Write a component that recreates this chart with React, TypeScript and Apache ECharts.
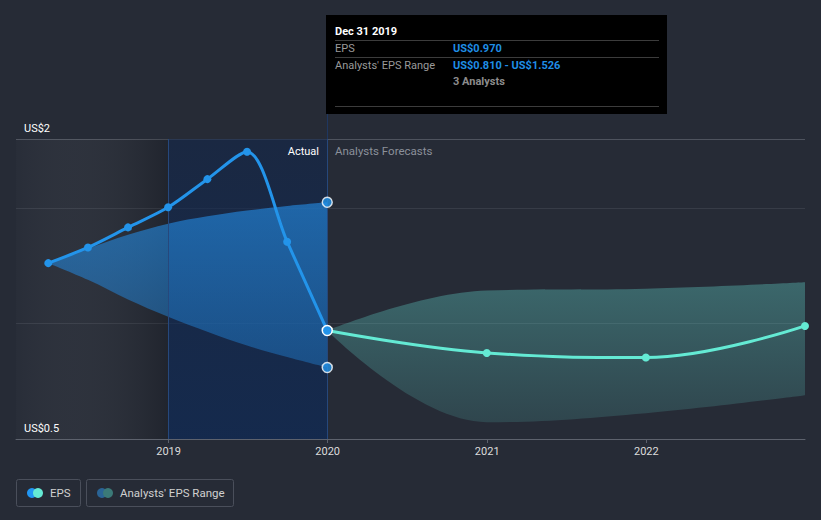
import React, { useEffect, useRef } from 'react';
import * as echarts from 'echarts';

// ---- data ----
const pastDates = ['2018-03-31', '2018-06-30', '2018-09-30', '2018-12-31', '2019-03-31', '2019-06-30', '2019-09-30', '2019-12-31'];
const epsActual = [1.262, 1.33, 1.417, 1.504, 1.626, 1.745, 1.355, 0.97];
const pastRangeLow = [1.262, 1.19, 1.105, 1.03, 0.965, 0.905, 0.855, 0.81];
const pastRangeHigh = [1.262, 1.325, 1.385, 1.433, 1.465, 1.49, 1.51, 1.526];

const fcDates = ['2019-12-31', '2020-12-31', '2021-12-31', '2022-12-31'];
const epsForecast = [0.97, 0.873, 0.853, 0.99];
const fcRangeLow = [0.97, 0.573, 0.612, 0.69];
const fcRangeHigh = [0.97, 1.144, 1.151, 1.179];

const xMin = '2018-01-16';
const xMax = '2022-12-31';
const yMin = 0.5;
const yMax = 1.8;
const yTickLabels: [number, string][] = [[0.5, 'US$0.5'], [1.8, 'US$2']];
const analystCount = 3;
const tooltipDate = 'Dec 31 2019';
const actualStart = '2018-12-31';

const BLUE = '#2394ea';
const TEAL = '#64ead4';
const FONT = 'Roboto, "Noto Sans", sans-serif';

export default function App() {
  const ref = useRef<HTMLDivElement>(null);
  useEffect(() => {
    const chart = echarts.init(ref.current!, null, { renderer: 'svg' });
    const last = pastDates.length - 1;
    const yearMs = 365 * 24 * 3600 * 1000;

    const option: any = {
      animation: false,
      backgroundColor: '#262b36',
      textStyle: { fontFamily: FONT },
      grid: { left: 16, right: 16, top: 139, bottom: 81 },
      xAxis: {
        type: 'time',
        min: xMin,
        max: xMax,
        minInterval: yearMs,
        maxInterval: yearMs * 1.01,
        axisLine: { lineStyle: { color: '#5d626d', width: 1 } },
        axisTick: { show: true, length: 4, lineStyle: { color: '#5d626d' } },
        axisLabel: {
          color: '#dcdcdc',
          fontSize: 11,
          margin: 7,
          showMinLabel: false,
          showMaxLabel: false,
          formatter: (v: number) => String(new Date(v).getFullYear()),
        },
        splitLine: { show: false },
      },
      yAxis: {
        type: 'value',
        min: yMin,
        max: yMax,
        interval: 0.5,
        axisLine: { show: false },
        axisTick: { show: false },
        axisLabel: {
          inside: true,
          margin: 8,
          verticalAlign: 'bottom',
          padding: [0, 0, 5, 0],
          color: '#ffffff',
          fontSize: 11,
          formatter: (v: number) => {
            const f = yTickLabels.find((t) => Math.abs(t[0] - v) < 1e-6);
            return f ? f[1] : '';
          },
        },
        splitLine: { show: true, lineStyle: { color: ['#373c47', '#373c47', '#373c47', '#4e535e'], width: 1 } },
      },
      series: [
        {
          type: 'line',
          name: 'pastLow',
          stack: 'past',
          z: 1,
          silent: true,
          smooth: 0.35,
          symbol: 'none',
          lineStyle: { opacity: 0 },
          data: pastDates.map((d, i) => [d, pastRangeLow[i]]),
          markArea: {
            silent: true,
            data: [
              [
                {
                  xAxis: xMin,
                  itemStyle: {
                    color: {
                      type: 'linear', x: 0, y: 0, x2: 1, y2: 0,
                      colorStops: [
                        { offset: 0, color: 'rgba(255,255,255,0.012)' },
                        { offset: 1, color: 'rgba(0,0,0,0.15)' },
                      ],
                    },
                  },
                },
                { xAxis: actualStart },
              ],
              [
                {
                  xAxis: actualStart,
                  itemStyle: {
                    color: {
                      type: 'linear', x: 0, y: 0, x2: 0, y2: 1,
                      colorStops: [
                        { offset: 0, color: 'rgba(18,38,74,0.6)' },
                        { offset: 1, color: 'rgba(10,41,91,0.62)' },
                      ],
                    },
                  },
                },
                { xAxis: pastDates[last] },
              ],
            ],
          },
          markLine: {
            silent: true,
            symbol: 'none',
            label: { show: false },
            lineStyle: { color: '#26487c', type: 'solid', width: 1 },
            data: [{ xAxis: actualStart }, { xAxis: pastDates[last] }],
          },
        },
        {
          type: 'line',
          name: 'pastRange',
          stack: 'past',
          z: 2,
          silent: true,
          smooth: 0.35,
          symbol: 'none',
          lineStyle: { opacity: 0 },
          areaStyle: {
            color: {
              type: 'linear', x: 0, y: 0, x2: 0, y2: 1,
              colorStops: [
                { offset: 0, color: 'rgba(35,140,230,0.62)' },
                { offset: 1, color: 'rgba(35,140,230,0.38)' },
              ],
            },
            opacity: 1,
          },
          data: pastDates.map((d, i) => [d, pastRangeHigh[i] - pastRangeLow[i]]),
        },
        {
          type: 'line',
          name: 'fcLow',
          stack: 'fc',
          z: 1,
          silent: true,
          smooth: 0.4,
          symbol: 'none',
          lineStyle: { opacity: 0 },
          data: fcDates.map((d, i) => [d, fcRangeLow[i]]),
        },
        {
          type: 'line',
          name: 'fcRange',
          stack: 'fc',
          z: 2,
          silent: true,
          smooth: 0.4,
          symbol: 'none',
          lineStyle: { opacity: 0 },
          areaStyle: {
            color: {
              type: 'linear', x: 0, y: 0, x2: 0, y2: 1,
              colorStops: [
                { offset: 0, color: 'rgba(100,220,210,0.34)' },
                { offset: 1, color: 'rgba(100,220,210,0.15)' },
              ],
            },
            opacity: 1,
          },
          data: fcDates.map((d, i) => [d, fcRangeHigh[i] - fcRangeLow[i]]),
        },
        {
          type: 'line',
          name: 'EPS forecast',
          z: 5,
          silent: true,
          smooth: 0.4,
          symbol: 'circle',
          symbolSize: 8,
          itemStyle: { color: TEAL },
          lineStyle: { color: TEAL, width: 3 },
          data: fcDates.map((d, i) => (i === 0 ? { value: [d, epsForecast[i]], symbol: 'none' } : [d, epsForecast[i]])),
        },
        {
          type: 'line',
          name: 'EPS',
          z: 6,
          silent: true,
          smooth: 0.3,
          symbol: 'circle',
          symbolSize: 8,
          itemStyle: { color: BLUE },
          lineStyle: { color: BLUE, width: 3 },
          data: pastDates.map((d, i) =>
            i === last
              ? { value: [d, epsActual[i]], symbolSize: 10, itemStyle: { color: BLUE, borderColor: '#ffffff', borderWidth: 1.5 } }
              : [d, epsActual[i]]
          ),
        },
        {
          type: 'scatter',
          name: 'range ends',
          z: 7,
          silent: true,
          symbolSize: 10,
          itemStyle: { color: BLUE, borderColor: '#ffffff', borderWidth: 1.5 },
          data: [
            [pastDates[last], pastRangeLow[last]],
            [pastDates[last], pastRangeHigh[last]],
          ],
        },
      ],
      graphic: [
        // pointer line above grid
        { type: 'line', silent: true, shape: { x1: 327.5, y1: 114, x2: 327.5, y2: 139 }, style: { stroke: '#1f3760', lineWidth: 1 }, z: 1 },
        // period labels
        { type: 'text', silent: true, z: 100, x: 319, y: 151, style: { text: 'Actual', fill: '#ffffff', font: `11px ${FONT}`, align: 'right', verticalAlign: 'middle' } },
        { type: 'text', silent: true, z: 100, x: 335, y: 151, style: { text: 'Analysts Forecasts', fill: '#8b909a', font: `11.5px ${FONT}`, align: 'left', verticalAlign: 'middle' } },
        // tooltip box
        {
          type: 'group',
          silent: true,
          z: 100,
          children: [
            { type: 'rect', z: 100, shape: { x: 326, y: 15, width: 341, height: 99 }, style: { fill: '#000000' } },
            { type: 'text', z: 101, x: 335, y: 31, style: { text: tooltipDate, fill: '#ffffff', font: `bold 11px ${FONT}`, verticalAlign: 'middle' } },
            { type: 'line', z: 101, shape: { x1: 335, y1: 40.5, x2: 659, y2: 40.5 }, style: { stroke: '#3c3c3c', lineWidth: 1 } },
            { type: 'text', z: 101, x: 335, y: 48.5, style: { text: 'EPS', fill: '#9a9a9a', font: `11px ${FONT}`, verticalAlign: 'middle' } },
            { type: 'text', z: 101, x: 453, y: 48.5, style: { text: `US$${epsActual[last].toFixed(3)}`, fill: '#1f8ee6', font: `bold 11px ${FONT}`, verticalAlign: 'middle' } },
            { type: 'line', z: 101, shape: { x1: 335, y1: 57.5, x2: 659, y2: 57.5 }, style: { stroke: '#3c3c3c', lineWidth: 1 } },
            { type: 'text', z: 101, x: 335, y: 65.5, style: { text: "Analysts' EPS Range", fill: '#9a9a9a', font: `11px ${FONT}`, verticalAlign: 'middle' } },
            { type: 'text', z: 101, x: 453, y: 65.5, style: { text: `US$${pastRangeLow[last].toFixed(3)} - US$${pastRangeHigh[last].toFixed(3)}`, fill: '#1f8ee6', font: `bold 11px ${FONT}`, verticalAlign: 'middle' } },
            { type: 'text', z: 101, x: 453, y: 81, style: { text: `${analystCount} Analysts`, fill: '#8c8c8c', font: `bold 11px ${FONT}`, verticalAlign: 'middle' } },
            { type: 'line', z: 101, shape: { x1: 335, y1: 106.5, x2: 659, y2: 106.5 }, style: { stroke: '#3c3c3c', lineWidth: 1 } },
          ],
        },
        // legend
        {
          type: 'group',
          silent: true,
          children: [
            { type: 'rect', shape: { x: 16.5, y: 479.5, width: 64, height: 27, r: 2 }, style: { fill: 'none', stroke: '#4a4f5b', lineWidth: 1 } },
            { type: 'circle', shape: { cx: 32, cy: 493, r: 5 }, style: { fill: '#2196f3' } },
            { type: 'circle', shape: { cx: 38, cy: 493, r: 5 }, style: { fill: '#64ead4' } },
            { type: 'text', x: 50, y: 493, style: { text: 'EPS', fill: '#d0d0d0', font: `11.5px ${FONT}`, verticalAlign: 'middle' } },
            { type: 'rect', shape: { x: 86.5, y: 479.5, width: 147, height: 27, r: 2 }, style: { fill: 'none', stroke: '#4a4f5b', lineWidth: 1 } },
            { type: 'circle', shape: { cx: 102, cy: 493, r: 5 }, style: { fill: '#2a6496' } },
            { type: 'circle', shape: { cx: 108, cy: 493, r: 5 }, style: { fill: '#3b7a78' } },
            { type: 'text', x: 120, y: 493, style: { text: "Analysts' EPS Range", fill: '#d0d0d0', font: `11.5px ${FONT}`, verticalAlign: 'middle' } },
          ],
        },
      ],
    };

    chart.setOption(option);
    return () => chart.dispose();
  }, []);

  return (
    <div
      ref={ref}
      style={{ position: 'fixed', left: 0, top: 0, width: 821, height: 520, background: '#262b36' }}
    />
  );
}
